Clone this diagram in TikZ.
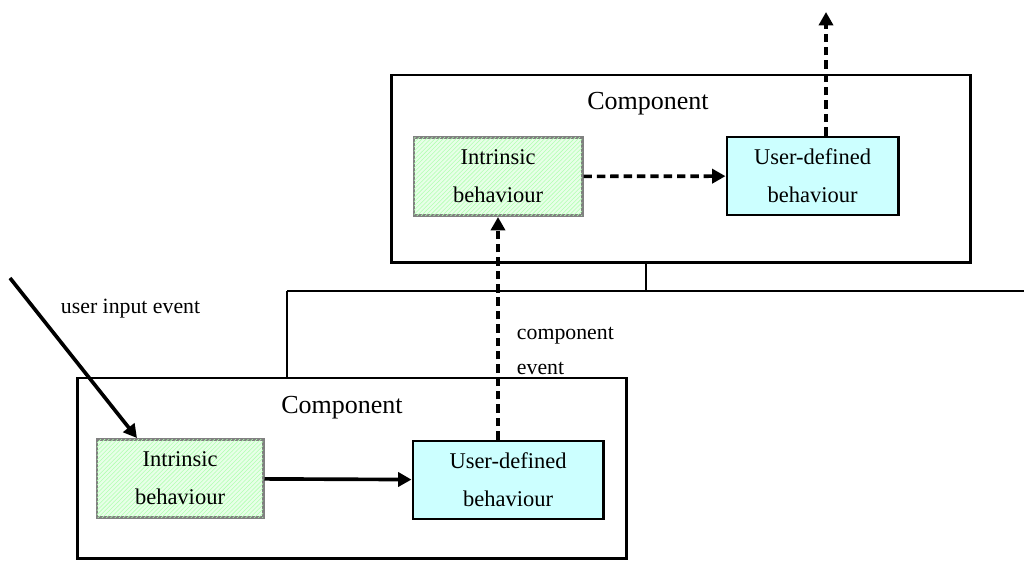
\documentclass[tikz,border=0pt]{standalone}
\usepackage{fontspec}
\setmainfont{Liberation Serif}
\usetikzlibrary{positioning, arrows.meta, patterns}

\begin{document}
\begin{tikzpicture}[
        x=0.025cm, y=-0.025cm,
        comp/.style = {draw, line width=2.1pt, minimum width=#1, minimum height=4.6cm},
        intr/.style = {draw=gray, line width=2.1pt, fill=green!9,
                       postaction={pattern=north east lines, pattern color=green!30},
                       minimum width=4.2cm, minimum height=1.95cm, align=center,
                       font=\fontsize{16}{27}\selectfont},
        user/.style = {draw, line width=2.1pt, fill={rgb,255:red,204;green,255;blue,255},
                       minimum height=1.95cm, align=center,
                       font=\fontsize{16}{27}\selectfont},
        title/.style = {font=\fontsize{18.5}{20}\selectfont},
        lbl/.style = {font=\fontsize{15.5}{25}\selectfont, align=left},
        arrow/.style = {-{Triangle[length=9.5pt, width=10pt]}, line width=2.6pt},
        dasharrow/.style = {arrow, dash pattern=on 6pt off 3.5pt},
        bus/.style = {line width=1.8pt}
        ]
    \useasboundingbox (0,0) rectangle (1024,561);

    % upper component
    \node[comp=14.45cm, minimum height=4.675cm] (tc) at (681,168.5) {};
    \node[title] (tct) at (648,104) {Component};
    \node[intr] (ti) at (498,176.5) {Intrinsic\\behaviour};
    \node[user, minimum width=4.275cm] (tu) at (812.5,176) {User-defined\\behaviour};

    % lower component
    \node[comp=13.7cm, minimum height=4.5cm] (bc) at (352,468) {};
    \node[title] (bct) at (342,408) {Component};
    \node[intr, minimum width=4.15cm] (bi) at (180,478.5) {Intrinsic\\behaviour};
    \node[user, minimum width=4.75cm] (bu) at (508,480) {User-defined\\behaviour};

    % free ends
    \coordinate (out) at (826,12);
    \coordinate (src) at (10,278);
    \coordinate (busl) at (287,291);
    \coordinate (busm) at (646,291);
    \coordinate (busr) at (1024,291);

    % links between the components
    \draw[bus] (busl) -- (busr);
    \draw[bus] (busm |- tc.south) -- (busm);
    \draw[bus] (busl) -- (busl |- bc.north);

    % events
    \draw[arrow] (src) -- ([xshift=-1.075cm]bi.north);
    \draw[arrow] (bi) -- (bu);
    \draw[dasharrow] (ti.south |- bu.north) -- (ti.south);
    \draw[dasharrow] (ti) -- (tu);
    \draw[dasharrow] (out |- tu.north) -- (out);

    % labels
    \node[lbl, anchor=west] (inlbl) at (56,309) {user input event};
    \node[lbl, anchor=west] (evlbl) at (512,351) {component\\event};

\end{tikzpicture}
\end{document}
